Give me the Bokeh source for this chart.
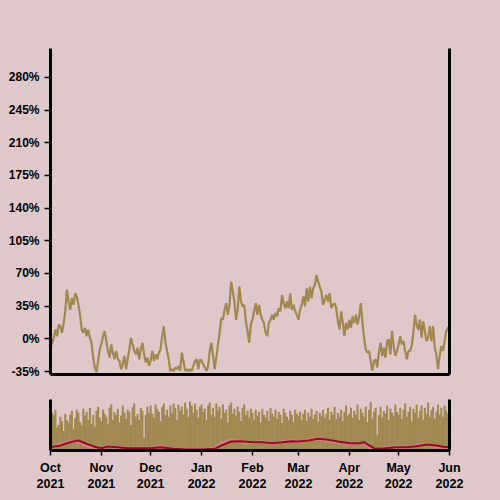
import pandas as pd
from bokeh.plotting import figure
from bokeh.layouts import column
from bokeh.models import Range1d, FixedTicker, LinearAxis, PrintfTickFormatter, ColumnDataSource
from bokeh.embed import file_html
from bokeh.resources import INLINE

# ---------------- data ----------------
start_date = "2021-10-01"
end_date = "2022-06-01"

# cumulative return (%) Oct 1 2021 .. Jan 31 2022
returns_part1 = [
    -11.3, -4.2, 1.1, 9.9, 2.9, 15.2, 13.5, 6.4, 17.0, 29.4, 52.4, 40.0, 31.1, 43.5,
    36.4, 48.8, 45.3, 36.4, 25.8, 9.9, 6.4, 11.7, 2.9, 9.9, 1.1, -4.2, -20.1, -30.7,
    -36.0, -23.6, -11.3, -6.0, 2.9, 8.2, -2.4, -13.0, -20.1, -6.0, -14.8, -21.9, -13.0,
    -21.9, -23.6, -32.5, -27.2, -18.3, -32.5, -21.9, -11.3, 1.1, -6.0, -13.0, -16.6,
    -9.5, -21.9, -11.3, -4.2, -16.6, -25.4, -20.1, -29.0, -23.6, -13.0, -23.6, -16.6,
    -21.9, -14.8, -11.3, 2.9, 13.5, -4.2, -13.0, -21.9, -34.3, -32.5, -34.3, -30.7,
    -32.5, -29.0, -34.3, -14.8, -23.6, -34.3, -32.5, -34.3, -32.5, -34.3, -29.0, -23.6,
    -21.9, -32.5, -21.9, -23.6, -27.2, -30.7, -34.3, -29.0, -13.0, -4.2, -18.3, -32.5,
    -20.1, -6.0, 6.4, 22.3, 20.5, 31.1, 38.2, 25.8, 36.4, 61.2, 50.6, 40.0, 20.5, 31.1,
    55.9, 40.0, 34.7, 36.4, 18.8, 8.2, -4.2, 15.2,
]
# cumulative return (%) Feb 1 2022 .. Jun 1 2022
returns_part2 = [
    20.5, 29.4, 38.2, 25.8, 36.4, 25.8, 20.5, 17.0, 6.4, 2.9, 17.0, 20.5, 25.8, 20.5,
    27.6, 24.1, 32.9, 29.4, 47.0, 38.2, 32.9, 40.0, 32.9, 48.8, 31.1, 36.4, 29.4, 25.8,
    20.5, 31.1, 36.4, 45.3, 34.7, 54.1, 40.0, 55.9, 43.5, 54.1, 57.7, 68.3, 61.2, 55.9,
    50.6, 36.4, 41.7, 47.0, 40.0, 48.8, 32.9, 36.4, 38.2, 32.9, 18.8, 9.9, 29.4, 17.0,
    2.9, 17.0, 9.9, 20.5, 11.7, 24.1, 17.0, 25.8, 15.2, 24.1, 38.2, 17.0, 1.1, -11.3,
    -14.8, -13.0, -23.7, -34.3, -23.7, -21.9, -30.7, -14.8, -4.2, -18.3, -9.5, -20.1,
    -2.4, -0.7, -16.6, 8.2, -7.7, -18.3, -13.0, -6.0, 2.9, -6.0, -2.4, -13.0, -21.9,
    -13.0, -13.0, -7.7, 6.4, 25.8, 15.2, 9.9, 20.5, 1.1, 18.8, 8.2, -2.4, 1.1, 13.5,
    -2.4, 13.5, -9.5, -16.6, -32.5, -18.3, -7.7, -13.0, -2.4, 8.2, 11.7, 13.5,
]

# daily volume (relative, 0-100)
volume = [
    62, 75, 70, 80, 45, 50, 66, 58, 38, 72, 60, 55, 70, 78, 42, 63, 80, 74, 56, 49, 82, 68, 76, 60, 84, 52, 70, 47, 78, 86, 64,
    58, 80, 72, 66, 52, 84, 90, 60, 75, 70, 82, 55, 68, 88, 74, 62, 80, 76, 50, 85, 92, 66, 72, 60, 84, 78, 25, 70, 86, 74,
    88, 72, 64, 90, 82, 76, 58, 86, 92, 70, 80, 66, 88, 74, 92, 84, 60, 90, 78, 86, 70, 94, 82, 66, 96, 88, 74, 92, 80, 64, 86,
    90, 76, 82, 60, 88, 94, 70, 84, 66, 92, 78, 86, 62, 90, 74, 80, 56, 88, 94, 72, 82, 68, 86, 76, 58, 84, 90, 70, 78, 64, 82,
    74, 60, 80, 68, 76, 55, 82, 70, 64, 78, 58, 84, 72, 66, 80, 62, 76, 70, 54, 82, 74, 66, 60, 78, 70, 56, 80, 72,
    68, 76, 60, 72, 80, 58, 74, 66, 82, 62, 70, 78, 56, 74, 68, 80, 64, 72, 84, 60, 76, 70, 86, 62, 74, 66, 80, 58, 76, 88, 68,
    72, 84, 64, 78, 70, 90, 60, 82, 74, 66, 86, 56, 80, 95, 62, 76, 84, 30, 70, 86, 64, 78, 72, 88, 60, 82, 74, 68, 90, 76,
    70, 84, 62, 80, 92, 66, 76, 86, 58, 82, 74, 90, 64, 78, 88, 60, 84, 72, 94, 66, 80, 86, 62, 76, 90, 70, 84, 66, 88, 78, 72,
    80,
]

vol_dates = [
    "2021-10-01", "2021-10-07", "2021-10-13", "2021-10-18", "2021-10-23", "2021-10-29",
    "2021-11-01", "2021-11-05", "2021-11-11", "2021-11-17", "2021-11-25", "2021-12-01",
    "2021-12-07", "2021-12-15", "2021-12-23", "2022-01-01", "2022-01-09", "2022-01-13",
    "2022-01-19", "2022-01-25", "2022-02-01", "2022-02-07", "2022-02-13", "2022-02-19",
    "2022-02-25", "2022-03-01", "2022-03-07", "2022-03-13", "2022-03-19", "2022-03-25",
    "2022-04-01", "2022-04-07", "2022-04-10", "2022-04-13", "2022-04-17", "2022-04-23",
    "2022-04-29", "2022-05-06", "2022-05-12", "2022-05-18", "2022-05-24", "2022-05-30",
    "2022-06-01",
]
volatility_slow = [
    6.5, 9.8, 16.3, 19.6, 13.0, 6.5, 4.5, 7.8, 6.5, 4.5, 4.5, 4.5, 6.5, 3.3, 2.0, 2.0,
    3.3, 9.8, 17.6, 18.3, 16.3, 16.3, 14.4, 16.3, 18.3, 17.6, 19.6, 22.9, 20.9, 17.6,
    14.4, 14.4, 16.3, 9.8, 3.3, 4.5, 6.5, 6.5, 8.5, 11.8, 9.8, 6.5, 7.8,
]
volatility_fast = [
    5, 12, 18, 17, 10, 4, 3, 9, 6, 4, 5, 4, 7, 3, 2, 1, 5, 14, 20, 17, 15, 17, 13, 17,
    19, 17, 21, 23, 19, 16, 13, 15, 14, 6, 2, 6, 8, 6, 10, 13, 8, 5, 7,
]

tick_months = ["2021-10-01", "2021-11-01", "2021-12-01", "2022-01-01", "2022-02-01",
               "2022-03-01", "2022-04-01", "2022-05-01", "2022-06-01"]
tick_texts = ["Oct\n2021", "Nov\n2021", "Dec\n2021", "Jan\n2022", "Feb\n2022",
              "Mar\n2022", "Apr\n2022", "May\n2022", "Jun\n2022"]
y_ticks = [-35, 0, 35, 70, 105, 140, 175, 210, 245, 280]

# ---------------- styling ----------------
BG = "#dfc8ca"
GOLD = "#a08850"
DARKRED = "#8e1020"
PINK = "#e07b8e"
FONT = "Liberation Sans"

returns = returns_part1 + returns_part2
dates = pd.date_range(start_date, periods=len(returns), freq="D")
vdates = pd.date_range(start_date, periods=len(volume), freq="D")

main_src = ColumnDataSource(dict(date=dates, ret=returns))
vol_src = ColumnDataSource(dict(date=vdates, vol=volume))
volat_src = ColumnDataSource(dict(date=pd.to_datetime(vol_dates), slow=volatility_slow, fast=volatility_fast))

x_range = Range1d(pd.Timestamp(start_date), pd.Timestamp(end_date))


def style(fig):
    fig.background_fill_color = BG
    fig.border_fill_color = BG
    fig.outline_line_color = None
    fig.grid.visible = False


def plain_axis(ax):
    ax.ticker = FixedTicker(ticks=[])
    ax.axis_line_width = 3
    ax.axis_line_color = "black"
    ax.major_tick_line_color = None
    ax.minor_tick_line_color = None


p = figure(width=500, height=384, x_axis_type="datetime", x_range=x_range,
           y_range=Range1d(-38.2, 311), output_backend="svg", toolbar_location=None,
           min_border_left=50, min_border_right=51, min_border_top=48, min_border_bottom=10)
style(p)
p.line("date", "ret", source=main_src, color=GOLD, line_width=2.2)
plain_axis(p.xaxis[0])
ya = p.yaxis[0]
ya.ticker = FixedTicker(ticks=y_ticks)
ya.formatter = PrintfTickFormatter(format="%d%%")
ya.axis_line_width = 3
ya.major_tick_in = 0
ya.major_tick_out = 6
ya.major_tick_line_width = 1.5
ya.minor_tick_line_color = None
ya.major_label_standoff = 5
ya.major_label_text_font = FONT
ya.major_label_text_font_style = "bold"
ya.major_label_text_font_size = "12px"
ya.major_label_text_color = "black"
ra = LinearAxis()
plain_axis(ra)
p.add_layout(ra, "right")

q = figure(width=500, height=116, x_axis_type="datetime", x_range=x_range,
           y_range=Range1d(0, 100), output_backend="svg", toolbar_location=None,
           min_border_left=50, min_border_right=51, min_border_top=15, min_border_bottom=50)
style(q)
q.vbar(x="date", top="vol", width=1.25 * 86400000, source=vol_src, color=GOLD, line_color=None)
q.line("date", "fast", source=volat_src, color=PINK, line_width=3)
q.line("date", "slow", source=volat_src, color=DARKRED, line_width=2)
plain_axis(q.yaxis[0])
ra2 = LinearAxis()
plain_axis(ra2)
q.add_layout(ra2, "right")
xa = q.xaxis[0]
tick_vals = [pd.Timestamp(t).value / 1e6 for t in tick_months]
xa.ticker = FixedTicker(ticks=tick_vals)
xa.major_label_overrides = {v: t for v, t in zip(tick_vals, tick_texts)}
xa.axis_line_width = 3
xa.major_tick_in = 0
xa.major_tick_out = 5
xa.major_tick_line_width = 1.5
xa.minor_tick_line_color = None
xa.major_label_standoff = 5
xa.major_label_text_font = FONT
xa.major_label_text_font_style = "bold"
xa.major_label_text_font_size = "12.5px"
xa.major_label_text_color = "black"

layout = column(p, q, spacing=0)
layout.styles = {"background-color": BG}

template = """{% block preamble %}<style>html, body { background: #dfc8ca; margin: 0; padding: 0; overflow: hidden; }</style>{% endblock %}"""
open("out.html", "w").write(file_html(layout, INLINE, template=template))
